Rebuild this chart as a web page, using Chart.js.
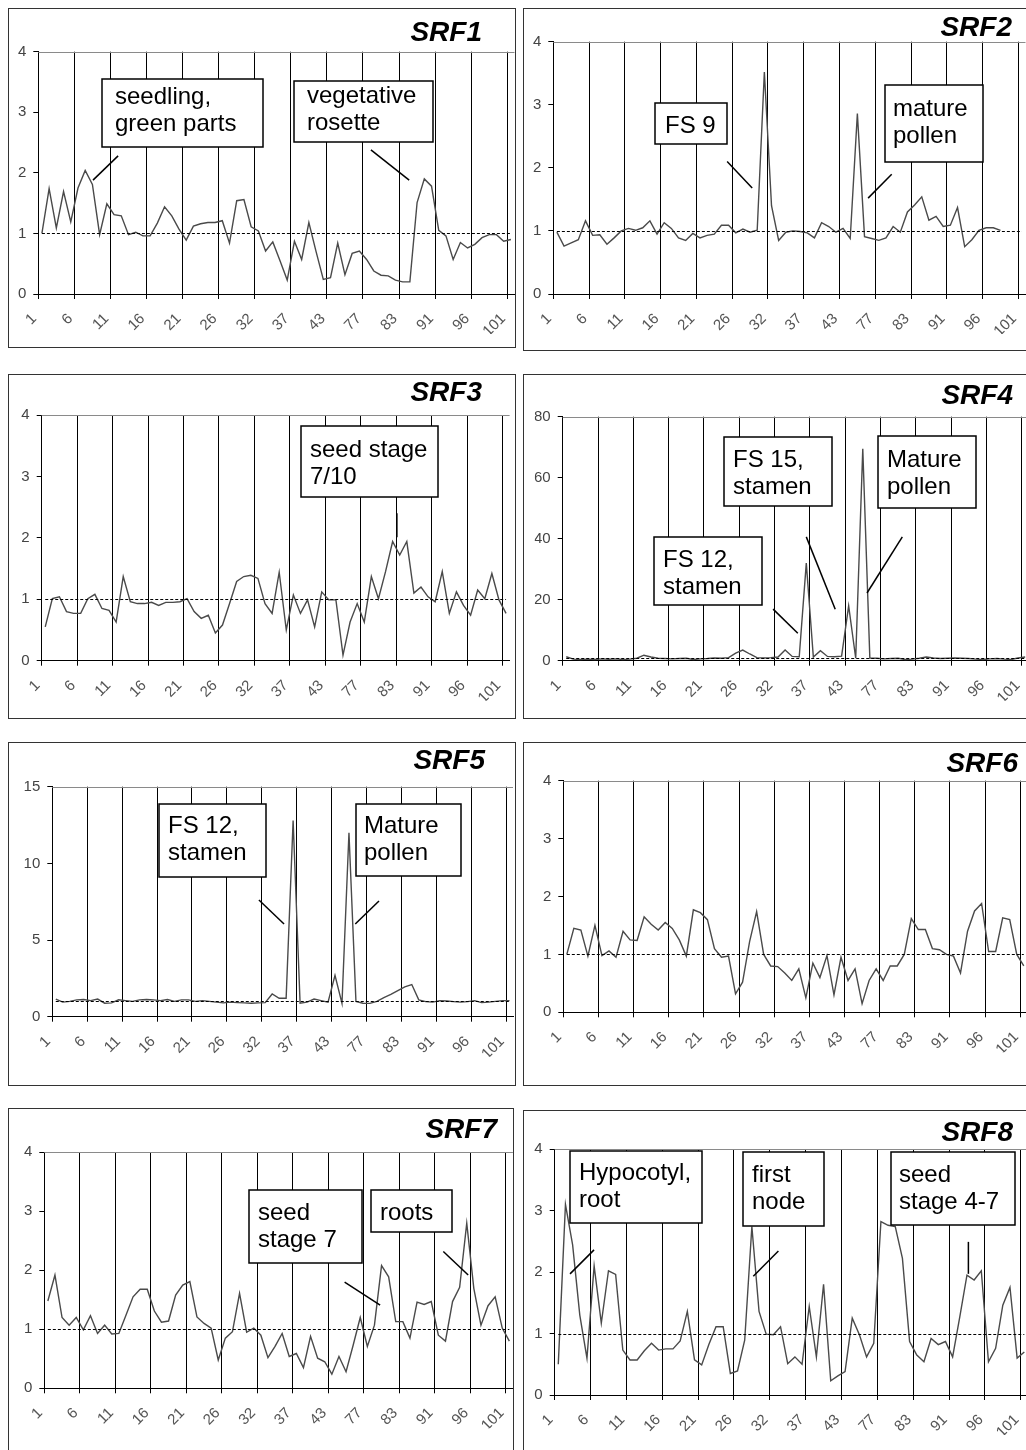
<!DOCTYPE html>
<html><head><meta charset="utf-8">
<script src="https://cdn.jsdelivr.net/npm/chart.js@4.4.1/dist/chart.umd.min.js"></script>
<style>
html,body{margin:0;padding:0;background:#fff;overflow:hidden;width:1026px;height:1450px;position:relative;}
.panel{position:absolute;box-sizing:border-box;border:1px solid #333;background:#fff;overflow:hidden;}
.panel canvas{position:absolute;left:0;top:0;}
.ttl{position:absolute;font:italic bold 28px "Liberation Sans",Arial,sans-serif;color:#000;white-space:nowrap;line-height:28px;}
</style></head><body>
<script>
// x tick labels (every 5th sample)
const tickLabels = ['1','6','11','16','21','26','32','37','43','77','83','91','96','101'];
const refLevel = 1;

const srf1 = [1.0,1.74,1.09,1.69,1.19,1.75,2.04,1.81,0.98,1.49,
  1.31,1.29,0.98,1.02,0.96,0.96,1.17,1.44,1.29,1.07,
  0.89,1.12,1.16,1.18,1.18,1.21,0.84,1.54,1.56,1.11,
  1.04,0.71,0.86,0.55,0.23,0.87,0.57,1.18,0.7,0.24,
  0.27,0.84,0.32,0.67,0.71,0.57,0.38,0.31,0.3,0.23,
  0.2,0.2,1.51,1.9,1.78,1.05,0.96,0.57,0.85,0.76,
  0.82,0.93,0.98,0.98,0.87,0.9];
const srf2 = [0.98,0.76,0.81,0.86,1.16,0.93,0.94,0.79,0.89,1.0,
  1.04,1.01,1.05,1.16,0.95,1.13,1.04,0.89,0.85,0.96,
  0.89,0.93,0.95,1.09,1.09,0.97,1.03,0.98,1.01,3.52,
  1.4,0.85,0.98,1.0,0.99,0.97,0.89,1.13,1.07,0.98,
  1.04,0.88,2.86,0.91,0.88,0.85,0.89,1.07,0.98,1.3,
  1.41,1.54,1.17,1.23,1.07,1.09,1.37,0.75,0.86,1.01,
  1.05,1.05,1.01,null,null,null];
const srf3 = [0.55,1.01,1.04,0.8,0.77,0.77,1.01,1.08,0.85,0.82,
  0.63,1.37,0.96,0.93,0.93,0.95,0.9,0.95,0.95,0.96,
  1.01,0.8,0.69,0.74,0.45,0.58,0.93,1.29,1.37,1.39,
  1.34,0.93,0.77,1.44,0.5,1.07,0.77,0.99,0.55,1.12,
  0.99,0.99,0.09,0.63,0.93,0.63,1.37,1.01,1.45,1.94,
  1.72,1.94,1.1,1.2,1.04,0.96,1.45,0.77,1.12,0.9,
  0.74,1.15,1.01,1.42,0.99,0.77];
const srf4 = [1.3,0.5,0.4,0.5,0.4,0.6,0.5,0.6,0.4,0.5,
  0.8,1.8,1.2,0.8,0.7,0.6,0.7,0.8,0.4,0.6,
  0.7,0.9,0.8,1.0,2.5,3.5,2.2,1.0,0.9,1.0,
  1.2,3.5,1.4,1.3,32,1.2,3.3,1.4,1.3,1.5,
  18,0.8,69.5,0.9,0.8,0.6,0.7,0.8,0.4,0.5,
  0.8,1.2,0.9,0.7,0.8,0.9,0.8,0.7,0.5,0.4,
  0.6,0.7,0.5,0.4,0.9,1.2];
const srf5 = [1.15,0.95,1.0,1.1,1.12,1.05,1.15,0.88,0.9,1.1,
  1.05,1.0,1.1,1.12,1.1,1.05,1.12,1.0,1.1,1.1,
  1.0,1.05,1.0,0.95,0.9,0.95,0.92,0.9,0.88,0.9,
  0.92,1.48,1.2,1.2,12.8,0.88,0.95,1.15,1.05,0.95,
  2.7,0.87,12.0,1.0,0.88,0.87,1.0,1.25,1.45,1.7,
  1.95,2.1,1.1,0.98,0.95,1.05,1.02,0.98,0.95,0.98,
  1.05,0.92,0.95,1.0,1.05,1.05];
const srf6 = [1.0,1.45,1.42,0.97,1.5,0.98,1.06,0.95,1.4,1.25,
  1.24,1.65,1.52,1.42,1.55,1.45,1.25,0.97,1.77,1.72,
  1.6,1.1,0.95,0.97,0.32,0.52,1.22,1.74,1.0,0.8,
  0.79,0.68,0.55,0.75,0.25,0.85,0.6,0.98,0.3,0.95,
  0.55,0.75,0.15,0.55,0.75,0.55,0.8,0.8,1.0,1.62,
  1.43,1.43,1.1,1.08,1.0,0.97,0.68,1.4,1.75,1.88,
  1.05,1.05,1.63,1.6,1.0,0.8];
const srf7 = [1.48,1.92,1.2,1.07,1.2,0.99,1.23,0.93,1.07,0.92,
  0.93,1.24,1.55,1.68,1.68,1.31,1.12,1.14,1.58,1.75,
  1.81,1.21,1.1,1.02,0.48,0.85,0.96,1.61,0.95,1.02,
  0.9,0.52,0.71,0.93,0.54,0.59,0.35,0.88,0.51,0.45,
  0.24,0.54,0.28,0.73,1.2,0.71,1.07,2.08,1.89,1.13,
  1.13,0.85,1.46,1.42,1.47,0.9,0.8,1.47,1.71,2.8,
  1.69,1.07,1.4,1.55,1.02,0.8];
const srf8 = [0.5,3.1,2.44,1.3,0.6,2.1,1.17,2.02,1.96,0.73,
  0.57,0.57,0.72,0.84,0.73,0.75,0.75,0.88,1.36,0.57,
  0.49,0.82,1.11,1.11,0.35,0.39,0.89,2.74,1.36,0.99,
  0.98,1.11,0.51,0.62,0.5,1.44,0.62,1.8,0.23,0.31,
  0.38,1.25,0.98,0.62,0.84,2.82,2.76,2.74,2.22,0.87,
  0.65,0.54,0.92,0.82,0.87,0.62,1.27,1.95,1.87,2.02,
  0.54,0.76,1.46,1.75,0.6,0.7];

// layout (page pixels) and annotations (in data units)
const panels = [
 {name:'SRF1', data:srf1, ymax:4, step:1, box:[8,8,508,340], plot:[38.3,51.7,514.5,294], title:[482,41.7],
  notes:[{x0:8.8,x1:31.1,y0:3.55,y1:2.43,lines:['seedling,','green parts'],base:25,px:13},
         {x0:35.4,x1:54.7,y0:3.52,y1:2.51,lines:['vegetative','rosette'],base:22,px:13}],
  leaders:[[11.06,2.28,7.58,1.88],[46.1,2.38,51.4,1.88]]},
 {name:'SRF2', data:srf2, ymax:4, step:1, box:[523,8,520,343], plot:[553.3,41.7,1025.5,294], title:[1012,36.7],
  notes:[{x0:14.2,x1:24.3,y0:3.03,y1:2.38,lines:['FS 9'],base:30,px:10},
         {x0:46.4,x1:60.1,y0:3.32,y1:2.10,lines:['mature','pollen'],base:31,px:8}],
  leaders:[[24.3,2.10,27.8,1.68],[47.3,1.90,44.0,1.52]]},
 {name:'SRF3', data:srf3, ymax:4, step:1, box:[8,374,508,345], plot:[41.7,415,509.6,660.7], title:[482,401.7],
  notes:[{x0:36.6,x1:55.9,y0:3.82,y1:2.67,lines:['seed stage','7/10'],base:31,px:9}],
  leaders:[[50.1,2.40,50.1,2.01]]},
 {name:'SRF4', data:srf4, ymax:80, step:20, box:[523,374,520,345], plot:[562.7,416.7,1028.7,660.7], title:[1013,405],
  notes:[{x0:22.9,x1:38.1,y0:73.3,y1:50.7,lines:['FS 15,','stamen'],base:30,px:9},
         {x0:44.7,x1:58.5,y0:73.7,y1:50.1,lines:['Mature','pollen'],base:31,px:9},
         {x0:12.9,x1:28.2,y0:40.6,y1:18.3,lines:['FS 12,','stamen'],base:30,px:9}],
  leaders:[[29.8,16.9,33.3,9.0],[34.5,40.6,38.6,16.9],[48.1,40.6,43.1,22.2]]},
 {name:'SRF5', data:srf5, ymax:15, step:5, box:[8,742,508,344], plot:[52.3,786.7,513,1016.7], title:[485,769.3],
  notes:[{x0:15.3,x1:30.6,y0:13.88,y1:9.12,lines:['FS 12,','stamen'],base:29,px:9},
         {x0:43.5,x1:58.5,y0:13.88,y1:9.18,lines:['Mature','pollen'],base:29,px:8}],
  leaders:[[29.6,7.61,33.2,6.05],[46.8,7.55,43.4,6.05]]},
 {name:'SRF6', data:srf6, ymax:4, step:1, box:[523,742,520,344], plot:[563.3,780.7,1027.3,1012.3], title:[1018,772.7],
  notes:[], leaders:[]},
 {name:'SRF7', data:srf7, ymax:4, step:1, box:[8,1108,506,360], plot:[44.3,1152.3,512.9,1388.3], title:[497,1138.3],
  notes:[{x0:28.8,x1:44.7,y0:3.36,y1:2.12,lines:['seed','stage 7'],base:30,px:9},
         {x0:46.0,x1:57.4,y0:3.36,y1:2.65,lines:['roots'],base:30,px:9}],
  leaders:[[42.3,1.80,47.3,1.41],[56.2,2.32,59.7,1.92]]},
 {name:'SRF8', data:srf8, ymax:4, step:1, box:[523,1110,520,360], plot:[554.7,1149,1027.9,1395], title:[1013,1141.7],
  notes:[{x0:2.13,x1:20.5,y0:3.97,y1:2.80,lines:['Hypocotyl,','root'],base:29,px:9},
         {x0:26.3,x1:37.6,y0:3.95,y1:2.75,lines:['first','node'],base:30,px:9},
         {x0:46.9,x1:64.2,y0:3.95,y1:2.76,lines:['seed','stage 4-7'],base:30,px:8}],
  leaders:[[5.49,2.36,2.14,1.97],[31.2,2.34,27.7,1.93],[57.7,2.49,57.7,1.97]]}
];

const FONT = '"Liberation Sans", Arial, sans-serif';
const YW = 28, XH = 40, NCAT = 66;

function overlayPlugin(p){
  return {
    id:'overlay'+p.name,
    afterDatasetsDraw(chart){
      const ctx = chart.ctx, xs = chart.scales.x, ys = chart.scales.y, a = chart.chartArea;
      ctx.save();
      // top frame line of plot area
      ctx.strokeStyle = '#8a8a8a'; ctx.lineWidth = 1; ctx.setLineDash([]);
      ctx.beginPath(); ctx.moveTo(a.left, Math.round(a.top)+0.5); ctx.lineTo(a.right, Math.round(a.top)+0.5); ctx.stroke();
      // reference level line
      const ry = Math.round(ys.getPixelForValue(refLevel))+0.5;
      ctx.strokeStyle = '#000'; ctx.lineWidth = 1; ctx.setLineDash([3,2]);
      ctx.beginPath(); ctx.moveTo(xs.getPixelForValue(0.5), ry); ctx.lineTo(xs.getPixelForValue(NCAT-0.5), ry); ctx.stroke();
      ctx.setLineDash([]);
      // leader lines
      ctx.strokeStyle = '#000'; ctx.lineWidth = 1.5;
      p.leaders.forEach(l=>{
        ctx.beginPath();
        ctx.moveTo(xs.getPixelForValue(l[0]), ys.getPixelForValue(l[1]));
        ctx.lineTo(xs.getPixelForValue(l[2]), ys.getPixelForValue(l[3]));
        ctx.stroke();
      });
      // label boxes
      p.notes.forEach(n=>{
        const x0 = Math.round(xs.getPixelForValue(n.x0)), x1 = Math.round(xs.getPixelForValue(n.x1));
        const y0 = Math.round(ys.getPixelForValue(n.y0)), y1 = Math.round(ys.getPixelForValue(n.y1));
        ctx.fillStyle = '#fff'; ctx.fillRect(x0, y0, x1-x0, y1-y0);
        ctx.strokeStyle = '#000'; ctx.lineWidth = 1.5; ctx.strokeRect(x0, y0, x1-x0, y1-y0);
        ctx.fillStyle = '#000'; ctx.font = '24px ' + FONT; ctx.textAlign = 'left'; ctx.textBaseline = 'alphabetic';
        n.lines.forEach((t,k)=> ctx.fillText(t, x0 + n.px, y0 + n.base + k*27));
      });
      ctx.restore();
    }
  };
}

panels.forEach(p=>{
  const div = document.createElement('div');
  div.className = 'panel';
  div.style.left = p.box[0]+'px'; div.style.top = p.box[1]+'px';
  div.style.width = p.box[2]+'px'; div.style.height = p.box[3]+'px';
  document.body.appendChild(div);
  const cw = p.box[2]-2, ch = p.box[3]-2, ox = p.box[0]+1, oy = p.box[1]+1;
  const cv = document.createElement('canvas');
  cv.width = cw; cv.height = ch; cv.style.width = cw+'px'; cv.style.height = ch+'px';
  div.appendChild(cv);
  const t = document.createElement('div');
  t.className = 'ttl'; t.textContent = p.name;
  t.style.right = (1026 - p.title[0])+'px'; t.style.top = (p.title[1]-23.7)+'px';
  document.body.appendChild(t);

  const pad = {left:p.plot[0]-ox-YW, top:p.plot[1]-oy, right:ox+cw-p.plot[2], bottom:oy+ch-p.plot[3]-XH};
  new Chart(cv, {
    type:'line',
    data:{datasets:[{data:p.data.map((v,i)=>({x:i+0.5,y:v})), borderColor:'#4a4a4a', borderWidth:1.4,
      pointRadius:0, tension:0, spanGaps:false, fill:false}]},
    options:{
      responsive:false, animation:false, devicePixelRatio:1,
      layout:{padding:pad, autoPadding:false},
      plugins:{legend:{display:false}, tooltip:{enabled:false}, title:{display:false}},
      scales:{
        x:{type:'linear', min:0, max:NCAT,
          afterBuildTicks:s=>{ s.ticks = tickLabels.map((_,k)=>({value:k*5})); },
          afterFit:s=>{ s.height = XH; s.paddingLeft = 0; s.paddingRight = 0; },
          ticks:{autoSkip:false, minRotation:45, maxRotation:45, padding:11, labelOffset:-4,
            color:'#555', font:{family:FONT, size:15}, callback:(v)=>tickLabels[Math.round(v/5)]},
          grid:{color:'#000', lineWidth:1, tickLength:5, drawTicks:true},
          border:{color:'#000', width:1}},
        y:{min:0, max:p.ymax,
          afterFit:s=>{ s.width = YW; s.paddingTop = 0; s.paddingBottom = 0; },
          ticks:{stepSize:p.step, padding:7, color:'#444', font:{family:FONT, size:15}},
          grid:{drawOnChartArea:false, color:'#000', tickLength:5, drawTicks:true},
          border:{color:'#000', width:1}}
      }
    },
    plugins:[overlayPlugin(p)]
  });
});
</script>
</body></html>
